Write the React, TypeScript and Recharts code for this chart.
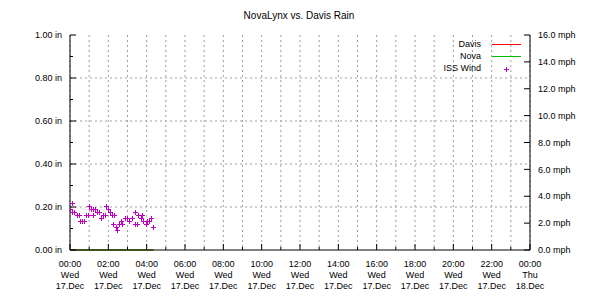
import React from 'react';
import { ComposedChart, Line, Scatter, XAxis, YAxis, CartesianGrid, ReferenceLine } from 'recharts';

const FONT = '"Liberation Sans", Arial, sans-serif';

// x axis: minutes since 00:00 Wed 17.Dec
const hourTicks = [0, 60, 120, 180, 240, 300, 360, 420, 480, 540, 600, 660, 720, 780, 840, 900, 960, 1020, 1080, 1140, 1200, 1260, 1320, 1380, 1440];
const xTimeLabels = ['00:00', '02:00', '04:00', '06:00', '08:00', '10:00', '12:00', '14:00', '16:00', '18:00', '20:00', '22:00', '00:00'];
const xDayLabels = ['Wed', 'Wed', 'Wed', 'Wed', 'Wed', 'Wed', 'Wed', 'Wed', 'Wed', 'Wed', 'Wed', 'Wed', 'Thu'];
const xDateLabels = ['17.Dec', '17.Dec', '17.Dec', '17.Dec', '17.Dec', '17.Dec', '17.Dec', '17.Dec', '17.Dec', '17.Dec', '17.Dec', '17.Dec', '18.Dec'];

// left axis: rain (in)
const rainTicks = [0, 0.1, 0.2, 0.3, 0.4, 0.5, 0.6, 0.7, 0.8, 0.9, 1.0];
const rainLabels = ['0.00 in', '0.20 in', '0.40 in', '0.60 in', '0.80 in', '1.00 in'];
const rainGrid = [0.2, 0.4, 0.6, 0.8];

// right axis: wind (mph)
const windTicks = [0, 2, 4, 6, 8, 10, 12, 14, 16];
const windLabels = ['0.0 mph', '2.0 mph', '4.0 mph', '6.0 mph', '8.0 mph', '10.0 mph', '12.0 mph', '14.0 mph', '16.0 mph'];

// series
const seriesNames = ['Davis', 'Nova', 'ISS Wind'];
const seriesColors = ['#ff0000', '#00c000', '#c000c0'];

const rainMinutes = [0, 60, 120, 180, 240, 261];
const davisRain = [0, 0, 0, 0, 0, 0];
const novaRain = [0, 0, 0, 0, 0, 0];

const windMinutes = [0, 5, 7, 13, 21, 28, 31, 38, 45, 49, 55, 58, 66, 73, 73, 79, 84, 90, 96, 104, 110, 114, 120, 124, 130, 136, 138, 145, 148, 154, 160, 164, 171, 177, 186, 194, 202, 204, 209, 214, 221, 226, 230, 237, 242, 248, 254, 261];
const windMph = [3.03, 2.81, 3.48, 2.81, 2.58, 2.58, 2.14, 2.14, 2.14, 2.58, 2.58, 3.25, 3.03, 3.03, 2.58, 3.03, 2.81, 2.81, 2.36, 2.58, 2.58, 3.25, 3.03, 2.81, 2.58, 1.91, 2.58, 1.69, 1.47, 1.91, 2.14, 1.91, 2.36, 2.36, 2.14, 2.36, 1.91, 2.81, 1.91, 2.58, 2.36, 2.58, 2.14, 1.91, 2.14, 2.14, 2.36, 1.69];

const rainData = rainMinutes.map((t, i) => ({ t, davis: davisRain[i], nova: novaRain[i] }));
const windData = windMinutes.map((t, i) => ({ t, wind: windMph[i] }));

const BottomTick = (props: any) => {
  const { x, y, payload } = props;
  const v = payload.value as number;
  const major = v % 120 === 0;
  const idx = Math.round(v / 120);
  return (
    <g>
      <line x1={x} x2={x} y1={y} y2={y - (major ? 6 : 3)} stroke="#000" strokeWidth={1} />
      {major && (
        <text x={x} y={y} textAnchor="middle" fontSize={9} fontFamily={FONT} fill="#000">
          <tspan x={x} dy={16.5}>{xTimeLabels[idx]}</tspan>
          <tspan x={x} dy={11}>{xDayLabels[idx]}</tspan>
          <tspan x={x} dy={11}>{xDateLabels[idx]}</tspan>
        </text>
      )}
    </g>
  );
};

const TopTick = (props: any) => {
  const { x, y, payload } = props;
  const v = payload.value as number;
  const major = v % 120 === 0;
  return <line x1={x} x2={x} y1={y} y2={y + (major ? 6 : 3)} stroke="#000" strokeWidth={1} />;
};

const LeftTick = (props: any) => {
  const { x, y, payload } = props;
  const v = payload.value as number;
  const n = Math.round(v * 10);
  const major = n % 2 === 0;
  return (
    <g>
      <line x1={x} x2={x + (major ? 6 : 3)} y1={y} y2={y} stroke="#000" strokeWidth={1} />
      {major && (
        <text x={x - 8} y={y} dy={3.2} textAnchor="end" fontSize={9} fontFamily={FONT} fill="#000">
          {rainLabels[n / 2]}
        </text>
      )}
    </g>
  );
};

const RightTick = (props: any) => {
  const { x, y, payload } = props;
  const v = payload.value as number;
  const idx = Math.round(v / 2);
  return (
    <g>
      <line x1={x} x2={x - 6} y1={y} y2={y} stroke="#000" strokeWidth={1} />
      <text x={x + 8} y={y} dy={3.2} textAnchor="start" fontSize={9} fontFamily={FONT} fill="#000">
        {windLabels[idx]}
      </text>
    </g>
  );
};

const PlusShape = (props: any) => {
  const { cx, cy } = props;
  if (cx == null || cy == null) return null;
  const px = Math.round(cx) + 0.5;
  const py = Math.round(cy) + 0.5;
  return (
    <g>
      <line x1={px - 2.5} x2={px + 2.5} y1={py} y2={py} stroke={seriesColors[2]} strokeWidth={1} />
      <line x1={px} x2={px} y1={py - 2.5} y2={py + 2.5} stroke={seriesColors[2]} strokeWidth={1} />
    </g>
  );
};

const LegendBox = () => (
  <svg width={100} height={44} style={{ position: 'absolute', left: 430, top: 36, display: 'block' }}>
    {seriesNames.map((name, i) => {
      const cy = 8 + i * 12;
      return (
        <g key={name}>
          <text x={51} y={cy} dy={3.2} textAnchor="end" fontSize={9} fontFamily={FONT} fill="#000">
            {name}
          </text>
          {i < 2 ? (
            <line x1={62} x2={91} y1={cy + 0.5} y2={cy + 0.5} stroke={seriesColors[i]} strokeWidth={1} />
          ) : (
            <PlusShape cx={76} cy={cy + 0.5} />
          )}
        </g>
      );
    })}
  </svg>
);

export default function App() {
  return (
    <div style={{ position: 'absolute', left: 0, top: 0, width: 610, height: 300, background: '#fff' }}>
      <div
        style={{
          position: 'absolute',
          left: -6,
          top: 10,
          width: 610,
          textAlign: 'center',
          fontFamily: FONT,
          fontSize: 10,
          lineHeight: '12px',
          color: '#000',
        }}
      >
        NovaLynx vs. Davis Rain
      </div>
      <ComposedChart width={610} height={300} margin={{ top: 35, right: 0, bottom: 0, left: 0 }}>
        <CartesianGrid
          xAxisId="b"
          yAxisId="l"
          horizontal={false}
          stroke="#a0a0a0"
          strokeDasharray="2 3"
        />
        {rainGrid.map((v) => (
          <ReferenceLine key={v} y={v} yAxisId="l" xAxisId="b" stroke="#a0a0a0" strokeDasharray="2 3" />
        ))}
        <XAxis
          xAxisId="b"
          dataKey="t"
          type="number"
          orientation="bottom"
          domain={[0, 1440]}
          ticks={hourTicks}
          interval={0}
          height={50}
          tickLine={false}
          tickSize={0}
          tickMargin={0}
          axisLine={{ stroke: '#000' }}
          tick={<BottomTick />}
          allowDataOverflow
        />
        <XAxis
          xAxisId="t"
          dataKey="t"
          type="number"
          orientation="top"
          domain={[0, 1440]}
          ticks={hourTicks}
          interval={0}
          height={0}
          tickLine={false}
          tickSize={0}
          tickMargin={0}
          axisLine={{ stroke: '#000' }}
          tick={<TopTick />}
          allowDataOverflow
        />
        <YAxis
          yAxisId="l"
          orientation="left"
          type="number"
          domain={[0, 1]}
          ticks={rainTicks}
          interval={0}
          width={70}
          tickLine={false}
          tickSize={0}
          tickMargin={0}
          axisLine={{ stroke: '#000' }}
          tick={<LeftTick />}
        />
        <YAxis
          yAxisId="r"
          orientation="right"
          type="number"
          domain={[0, 16]}
          ticks={windTicks}
          interval={0}
          width={80}
          tickLine={false}
          tickSize={0}
          tickMargin={0}
          axisLine={{ stroke: '#000' }}
          tick={<RightTick />}
        />
        <Line
          data={rainData}
          dataKey="davis"
          name={seriesNames[0]}
          xAxisId="b"
          yAxisId="l"
          stroke={seriesColors[0]}
          strokeWidth={1}
          dot={false}
          isAnimationActive={false}
        />
        <Line
          data={rainData}
          dataKey="nova"
          name={seriesNames[1]}
          xAxisId="b"
          yAxisId="l"
          stroke={seriesColors[1]}
          strokeWidth={1}
          dot={false}
          isAnimationActive={false}
        />
        <Scatter
          data={windData}
          dataKey="wind"
          name={seriesNames[2]}
          xAxisId="b"
          yAxisId="r"
          fill={seriesColors[2]}
          shape={<PlusShape />}
          isAnimationActive={false}
        />
      </ComposedChart>
      <LegendBox />
    </div>
  );
}
